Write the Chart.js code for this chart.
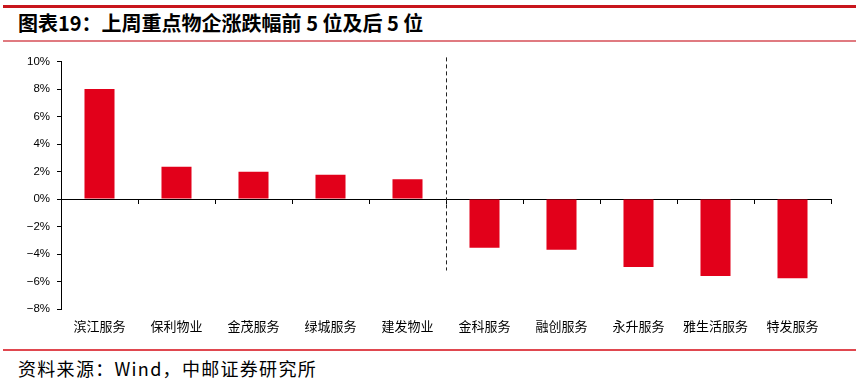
<!DOCTYPE html>
<html>
<head>
<meta charset="utf-8">
<script src="https://cdn.jsdelivr.net/npm/chart.js@4.4.0/dist/chart.umd.min.js"></script>
<style>
  html, body { margin: 0; padding: 0; background: #fff; }
  #page { position: relative; width: 859px; height: 385px; overflow: hidden; font-family: "Noto Sans CJK SC", sans-serif; }
  .topline { position: absolute; left: 3px; right: 3px; top: 5px; height: 3px; background: #c8161d; }
  .title { position: absolute; left: 18px; top: 10px; font-size: 20px; font-weight: bold; color: #000; line-height: 26px; white-space: nowrap; }
  .subline { position: absolute; left: 3px; right: 3px; top: 40px; height: 2px; background: #e07a80; }
  .botline { position: absolute; left: 3px; right: 3px; top: 349px; height: 2px; background: #e0474f; }
  .source { position: absolute; left: 18px; top: 356px; font-size: 18px; color: #000; line-height: 24px; letter-spacing: 1.3px; white-space: nowrap; }
  #wrap { position: absolute; left: 0; top: 45px; width: 859px; height: 300px; }
</style>
</head>
<body>
<div id="page">
  <div class="topline"></div>
  <div class="title">图表19：上周重点物企涨跌幅前 5 位及后 5 位</div>
  <div class="subline"></div>
  <div id="wrap"><canvas id="chart"></canvas></div>
  <div class="botline"></div>
  <div class="source">资料来源：Wind，中邮证券研究所</div>
</div>
<script>
// Data
const categories = ['滨江服务', '保利物业', '金茂服务', '绿城服务', '建发物业', '金科服务', '融创服务', '永升服务', '雅生活服务', '特发服务'];
const changes = [8.0, 2.35, 1.98, 1.77, 1.43, -3.54, -3.69, -4.95, -5.6, -5.77];
const yTicks = [-8, -6, -4, -2, 0, 2, 4, 6, 8, 10];

// Dashed divider between top 5 and bottom 5
const dividerPlugin = {
    id: 'divider',
    afterDatasetsDraw(chart) {
        const x = chart.scales.x.getPixelForValue(4.5);
        const y1 = chart.scales.y.getPixelForValue(10.3);
        const y2 = chart.scales.y.getPixelForValue(-5.2);
        const ctx = chart.ctx;
        ctx.save();
        ctx.strokeStyle = '#222';
        ctx.lineWidth = 1;
        ctx.setLineDash([4, 3]);
        ctx.beginPath();
        ctx.moveTo(Math.round(x) + 0.5, y1);
        ctx.lineTo(Math.round(x) + 0.5, y2);
        ctx.stroke();
        ctx.restore();
    }
};

new Chart(document.getElementById('chart'), {
    type: 'bar',
    data: {
        labels: categories,
        datasets: [{
            data: changes,
            backgroundColor: '#e2001a',
            borderWidth: 0,
            categoryPercentage: 1,
            barPercentage: 0.39
        }]
    },
    options: {
        responsive: true,
        maintainAspectRatio: false,
        animation: false,
        layout: { padding: { top: 16.5, right: 28, bottom: 0, left: 0 } },
        plugins: {
            legend: { display: false },
            tooltip: { enabled: false }
        },
        scales: {
            x: {
                position: 'bottom',
                grid: { display: false, drawTicks: false },
                border: { display: false },
                ticks: {
                    color: '#000',
                    padding: 9,
                    maxRotation: 0,
                    autoSkip: false,
                    font: { family: '"Noto Sans CJK SC"', size: 13 }
                },
                afterFit: (scale) => { scale.height = 36; }
            },
            x2: {
                type: 'category',
                labels: categories,
                position: { y: 0 },
                grid: { display: true, drawOnChartArea: false, drawTicks: true, tickLength: 4, offset: true, color: '#000' },
                border: { display: true, color: '#000', width: 1 },
                ticks: { display: false }
            },
            y: {
                min: -8,
                max: 10,
                afterBuildTicks: (scale) => { scale.ticks = yTicks.map(v => ({ value: v })); },
                grid: { display: true, drawOnChartArea: false, drawTicks: true, tickLength: 4, color: '#000' },
                border: { display: true, color: '#000', width: 1 },
                ticks: {
                    color: '#000',
                    padding: 7,
                    font: { family: '"Liberation Sans", Arial', size: 11.5 },
                    callback: (v) => (v < 0 ? '\u2212' + Math.abs(v) : v) + '%'
                },
                afterFit: (scale) => { scale.width = 61; }
            }
        }
    },
    plugins: [dividerPlugin]
});
</script>
</body>
</html>
